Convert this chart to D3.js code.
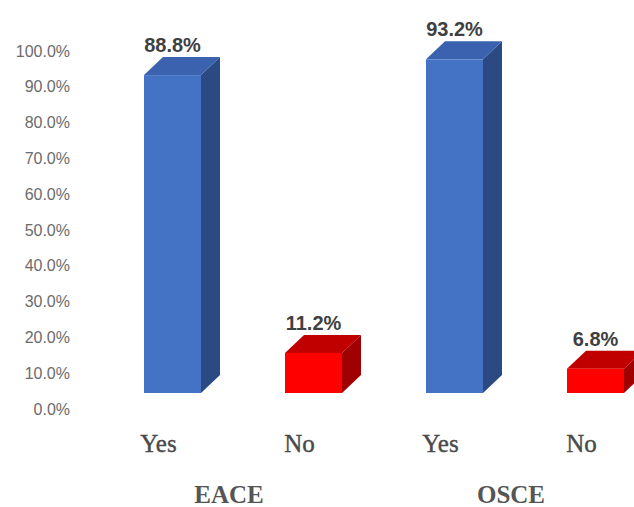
<!DOCTYPE html>
<html>
<head>
<meta charset="utf-8">
<script src="https://cdn.jsdelivr.net/npm/d3@7"></script>
<style>
  body { margin: 0; background: #fff; }
  svg { display: block; }
</style>
</head>
<body>
<div id="chart"></div>
<script>
var groups = ["EACE", "OSCE"];
var answers = ["Yes", "No"];
var eace_values = [88.8, 11.2];
var osce_values = [93.2, 6.8];
var y_ticks = [0, 10, 20, 30, 40, 50, 60, 70, 80, 90, 100];

var rows = [];
groups.forEach(function (g, i) {
    var vals = i == 0 ? eace_values : osce_values;
    answers.forEach(function (a, j) {
        rows.push({ group: g, answer: a, value: vals[j] });
    });
});

function draw_chart() {
    const W = 634, H = 507;
    const BAR_W = 57;      // front face width
    const DX = 19, DY = 18; // depth of the 3d box
    const SHIFT = 14;      // front face sits right of the category centre
    const AXIS_DROP = 16;  // tick labels sit lower than the front faces

    const colors = {
        Yes: { front: "#4472C4", top: "#3A62AE", side: "#2B4A84" },
        No: { front: "#FF0000", top: "#C00000", side: "#A00000" }
    };

    var svg = d3.select("#chart")
        .append("svg")
            .attr("width", W)
            .attr("height", H);

    var x0 = d3.scaleBand()
        .domain(groups)
        .range([88, 652]);

    var x1 = d3.scaleBand()
        .domain(answers)
        .range([0, x0.bandwidth()]);

    var y = d3.scaleLinear()
        .domain([0, 100])
        .range([393, 35]);

    function cx(d) { return x0(d.group) + x1(d.answer) + x1.bandwidth() / 2; }

    // y axis labels only
    var yAxis = d3.axisLeft(y)
        .tickValues(y_ticks)
        .tickFormat(function (d) { return d.toFixed(1) + "%"; })
        .tickSize(0)
        .tickPadding(0);

    var ya = svg.append("g")
        .attr("transform", "translate(70," + AXIS_DROP + ")")
        .call(yAxis);
    ya.select(".domain").remove();
    ya.selectAll("text")
        .attr("font-family", "'Liberation Sans', Arial, sans-serif")
        .attr("font-size", 16)
        .attr("fill", "#6b6b6b");

    var bars = svg.selectAll("g.bar")
        .data(rows)
        .enter()
        .append("g")
            .attr("class", "bar");

    // side face
    bars.append("path")
        .attr("d", function (d) {
            var r = cx(d) + SHIFT + BAR_W / 2, t = y(d.value), b = y(0);
            return "M" + r + "," + t + "L" + (r + DX) + "," + (t - DY) +
                "L" + (r + DX) + "," + (b - DY) + "L" + r + "," + b + "Z";
        })
        .attr("fill", function (d) { return colors[d.answer].side; });

    // top face
    bars.append("path")
        .attr("d", function (d) {
            var l = cx(d) + SHIFT - BAR_W / 2, r = l + BAR_W, t = y(d.value);
            return "M" + l + "," + t + "L" + (l + DX) + "," + (t - DY) +
                "L" + (r + DX) + "," + (t - DY) + "L" + r + "," + t + "Z";
        })
        .attr("fill", function (d) { return colors[d.answer].top; });

    // front face
    bars.append("rect")
        .attr("x", function (d) { return cx(d) + SHIFT - BAR_W / 2; })
        .attr("y", function (d) { return y(d.value); })
        .attr("width", BAR_W)
        .attr("height", function (d) { return y(0) - y(d.value); })
        .attr("fill", function (d) { return colors[d.answer].front; });

    // value labels
    bars.append("text")
        .attr("x", function (d) { return cx(d) + SHIFT; })
        .attr("y", function (d) { return y(d.value) - DY - 5; })
        .attr("text-anchor", "middle")
        .attr("font-family", "'Liberation Sans', Arial, sans-serif")
        .attr("font-weight", "bold")
        .attr("font-size", 20)
        .attr("fill", "#404040")
        .text(function (d) { return d.value.toFixed(1) + "%"; });

    // category labels
    svg.selectAll("text.answer")
        .data(rows)
        .enter()
        .append("text")
            .attr("class", "answer")
            .attr("x", cx)
            .attr("y", 452)
            .attr("text-anchor", "middle")
            .attr("font-family", "'Liberation Serif', 'Times New Roman', serif")
            .attr("font-size", 25)
            .attr("fill", "#4a4a4a")
            .attr("stroke", "#4a4a4a")
            .attr("stroke-width", 0.4)
            .text(function (d) { return d.answer; });

    // group labels
    svg.selectAll("text.group")
        .data(groups)
        .enter()
        .append("text")
            .attr("class", "group")
            .attr("x", function (d) { return x0(d) + x0.bandwidth() / 2; })
            .attr("y", 503)
            .attr("text-anchor", "middle")
            .attr("font-family", "'Liberation Serif', 'Times New Roman', serif")
            .attr("font-weight", "bold")
            .attr("font-size", 25)
            .attr("fill", "#555")
            .text(function (d) { return d; });
}

draw_chart();
</script>
</body>
</html>
